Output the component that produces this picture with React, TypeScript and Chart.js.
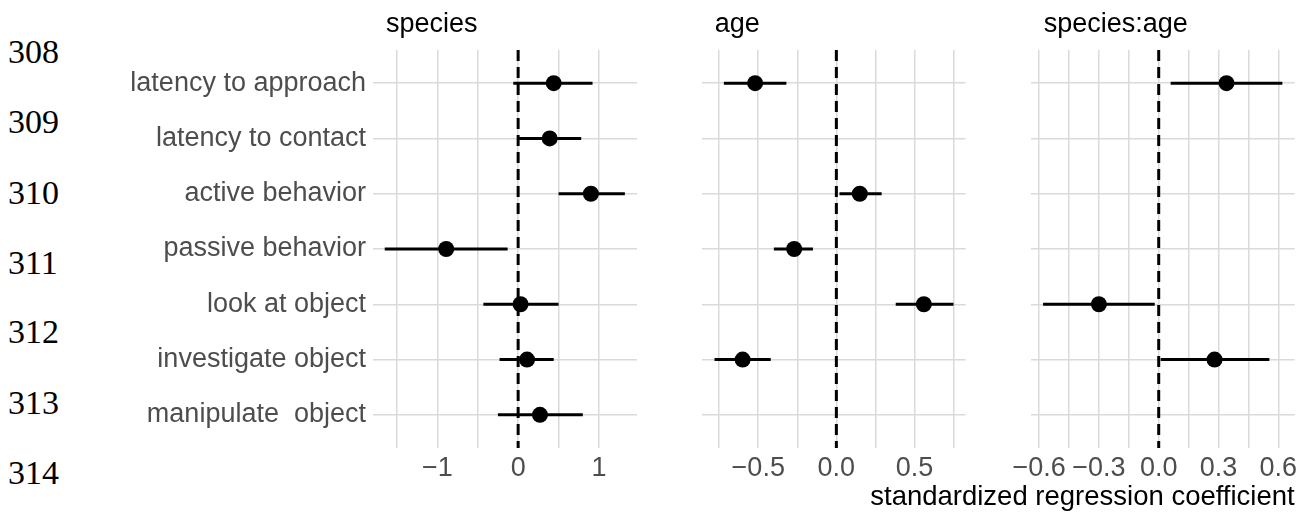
import React, { useEffect, useRef } from "react";
import { Chart, registerables } from "chart.js";

Chart.register(...registerables);

// ---------- data ----------
const categories = [
  "latency to approach",
  "latency to contact",
  "active behavior",
  "passive behavior",
  "look at object",
  "investigate object",
  "manipulate  object",
];

const speciesEst = [0.44, 0.39, 0.9, -0.89, 0.03, 0.11, 0.27];
const speciesLo = [-0.06, 0.0, 0.5, -1.65, -0.43, -0.23, -0.25];
const speciesHi = [0.92, 0.78, 1.32, -0.13, 0.5, 0.44, 0.8];

const ageEst = [-0.52, null, 0.15, -0.27, 0.56, -0.6, null];
const ageLo = [-0.72, null, 0.02, -0.4, 0.38, -0.78, null];
const ageHi = [-0.32, null, 0.29, -0.15, 0.75, -0.42, null];

const interEst = [0.34, null, null, null, -0.3, 0.28, null];
const interLo = [0.06, null, null, null, -0.58, 0.01, null];
const interHi = [0.62, null, null, null, -0.02, 0.555, null];

const speciesTicks = [-1.5, -1, -0.5, 0, 0.5, 1];
const speciesTickLabels = ["", "\u22121", "", "0", "", "1"];
const ageTicks = [-0.75, -0.5, -0.25, 0, 0.25, 0.5, 0.75];
const ageTickLabels = ["", "\u22120.5", "", "0.0", "", "0.5", ""];
const interTicks = [-0.6, -0.45, -0.3, -0.15, 0, 0.15, 0.3, 0.45, 0.6];
const interTickLabels = ["\u22120.6", "", "\u22120.3", "", "0.0", "", "0.3", "", "0.6"];

const panelTitles = ["species", "age", "species:age"];
const xAxisTitle = "standardized regression coefficient";
const lineNumbers = ["308", "309", "310", "311", "312", "313", "314"];

// ---------- layout / style constants ----------
const W = 1304;
const H = 512;
const FONT = "'Liberation Sans', Arial, Helvetica, sans-serif";
const lineNumberTops = [34.7, 104.7, 176, 246.3, 314.7, 386.3, 456.3];

type PanelProps = {
  est: (number | null)[];
  lo: (number | null)[];
  hi: (number | null)[];
  ticks: number[];
  tickLabels: string[];
  xmin: number;
  xmax: number;
  title: string;
  showY: boolean;
  showXTitle: boolean;
  left: number;
  width: number;
  yAxisWidth: number;
  padRight: number;
};

function Panel(p: PanelProps) {
  const ref = useRef<HTMLCanvasElement | null>(null);
  useEffect(() => {
    if (!ref.current) return;
    const datasets: any[] = [];
    datasets.push({
      type: "scatter",
      data: p.est
        .map((v, i) => (v === null ? null : { x: v, y: i }))
        .filter((d) => d !== null),
      pointRadius: 8,
      pointHoverRadius: 8,
      backgroundColor: "#000000",
      borderWidth: 0,
      order: 0,
    });
    p.lo.forEach((lo, i) => {
      const hi = p.hi[i];
      if (lo === null || hi === null) return;
      datasets.push({
        type: "line",
        data: [
          { x: lo, y: i },
          { x: hi, y: i },
        ],
        borderColor: "#000000",
        borderWidth: 3,
        pointRadius: 0,
        fill: false,
        order: 1,
      });
    });
    datasets.push({
      type: "line",
      data: [
        { x: 0, y: -0.6 },
        { x: 0, y: 6.6 },
      ],
      borderColor: "#000000",
      borderWidth: 3,
      borderDash: [11, 6],
      pointRadius: 0,
      fill: false,
      order: 2,
    });

    const titlePlugin = {
      id: "panelTitle",
      afterDraw(chart: any) {
        const ctx = chart.ctx;
        const area = chart.chartArea;
        ctx.save();
        ctx.font = `27px ${FONT}`;
        ctx.fillStyle = "#000000";
        ctx.textAlign = "left";
        ctx.textBaseline = "middle";
        ctx.fillText(p.title, area.left + 13, 25);
        if (p.showXTitle) {
          ctx.font = `27.5px ${FONT}`;
          ctx.textAlign = "right";
          ctx.fillText(xAxisTitle, area.right, 497);
        }
        ctx.restore();
      },
    };

    const chart = new Chart(ref.current, {
      type: "scatter",
      data: { datasets },
      plugins: [titlePlugin],
      options: {
        animation: false,
        responsive: false,
        devicePixelRatio: 1,
        events: [],
        layout: { padding: { top: 50, right: p.padRight, left: 0, bottom: 0 } },
        plugins: {
          legend: { display: false },
          tooltip: { enabled: false },
          title: { display: false },
        },
        scales: {
          x: {
            type: "linear",
            min: p.xmin,
            max: p.xmax,
            afterBuildTicks: (s: any) => {
              s.ticks = p.ticks.map((v) => ({ value: v }));
            },
            afterFit: (s: any) => {
              s.height = H - 448;
            },
            grid: { color: "#dadada", lineWidth: 1.5, drawTicks: false },
            border: { display: false },
            ticks: {
              autoSkip: false,
              maxRotation: 0,
              padding: 4,
              color: "#4d4d4d",
              font: { family: FONT, size: 27 },
              callback: (_v: any, i: number) => p.tickLabels[i],
            },
            title: { display: false },
          },
          y: {
            type: "linear",
            reverse: true,
            min: -0.6,
            max: 6.6,
            afterBuildTicks: (s: any) => {
              s.ticks = categories.map((_c, i) => ({ value: i }));
            },
            afterFit: (s: any) => {
              s.width = p.yAxisWidth;
            },
            grid: { color: "#dadada", lineWidth: 1.5, drawTicks: false },
            border: { display: false },
            ticks: {
              display: p.showY,
              autoSkip: false,
              padding: 7,
              color: "#4d4d4d",
              font: { family: FONT, size: 27 },
              callback: (_v: any, i: number) => categories[i],
            },
          },
        },
      } as any,
    });
    return () => chart.destroy();
  }, []);
  return (
    <canvas
      ref={ref}
      width={p.width}
      height={H}
      style={{ position: "absolute", left: p.left, top: 0, width: p.width, height: H }}
    />
  );
}

export default function App() {
  return (
    <div
      style={{
        position: "absolute",
        left: 0,
        top: 0,
        width: W,
        height: H,
        background: "#ffffff",
        overflow: "hidden",
      }}
    >
      {lineNumbers.map((n, i) => (
        <div
          key={n}
          style={{
            position: "absolute",
            left: 8,
            top: lineNumberTops[i],
            fontFamily: "'Liberation Serif', 'Times New Roman', serif",
            fontSize: 34,
            lineHeight: "34px",
            color: "#000",
          }}
        >
          {n}
        </div>
      ))}
      <Panel
        est={speciesEst}
        lo={speciesLo}
        hi={speciesHi}
        ticks={speciesTicks}
        tickLabels={speciesTickLabels}
        xmin={-1.795}
        xmax={1.47}
        title={panelTitles[0]}
        showY={true}
        showXTitle={false}
        left={0}
        width={660}
        yAxisWidth={373}
        padRight={23}
      />
      <Panel
        est={ageEst}
        lo={ageLo}
        hi={ageHi}
        ticks={ageTicks}
        tickLabels={ageTickLabels}
        xmin={-0.862}
        xmax={0.828}
        title={panelTitles[1]}
        showY={false}
        showXTitle={false}
        left={660}
        width={320}
        yAxisWidth={41.7}
        padRight={14.3}
      />
      <Panel
        est={interEst}
        lo={interLo}
        hi={interHi}
        ticks={interTicks}
        tickLabels={interTickLabels}
        xmin={-0.642}
        xmax={0.682}
        title={panelTitles[2]}
        showY={false}
        showXTitle={true}
        left={700}
        width={604}
        yAxisWidth={330.7}
        padRight={9.3}
      />
    </div>
  );
}
